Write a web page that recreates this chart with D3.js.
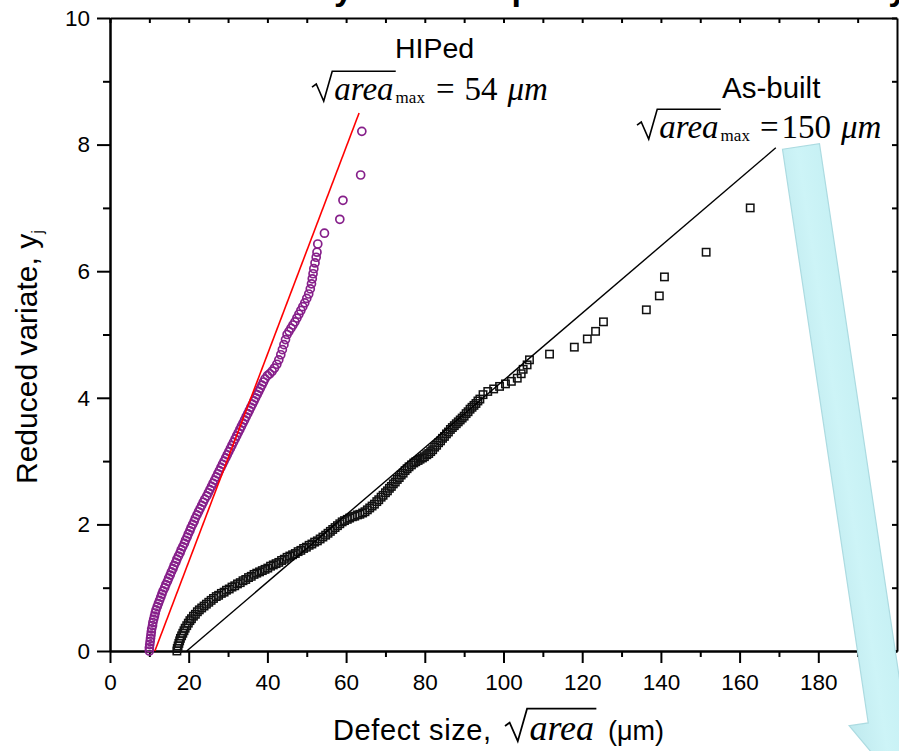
<!DOCTYPE html>
<html>
<head>
<meta charset="utf-8">
<script src="https://cdnjs.cloudflare.com/ajax/libs/d3/7.8.5/d3.min.js"></script>
<style>
  body { margin: 0; background: #fff; }
  svg { display: block; }
</style>
</head>
<body>
<div id="chart"></div>
<script>
'use strict'
/* global d3 */

const width = 899,
  height = 751

// HIPed defects: [sqrt(area) um, reduced variate]
const hipedPts = [
  [10.0,0.00],[10.0,0.05],[10.1,0.10],[10.2,0.15],[10.3,0.20],[10.4,0.25],[10.5,0.30],[10.6,0.35],[10.8,0.40],[10.9,0.45],
  [11.1,0.50],[11.3,0.55],[11.5,0.60],[11.7,0.65],[12.0,0.70],[12.3,0.75],[12.6,0.80],[12.9,0.85],[13.2,0.90],[13.5,0.95],
  [13.9,1.00],[14.2,1.05],[14.6,1.10],[14.9,1.15],[15.3,1.20],[15.6,1.25],[16.0,1.30],[16.3,1.35],[16.7,1.40],[17.0,1.45],
  [17.4,1.50],[17.8,1.55],[18.1,1.60],[18.5,1.65],[18.9,1.70],[19.2,1.75],[19.6,1.80],[19.9,1.85],[20.3,1.90],[20.6,1.95],
  [21.0,2.00],[21.4,2.05],[21.7,2.10],[22.1,2.15],[22.5,2.20],[22.9,2.25],[23.3,2.30],[23.7,2.35],[24.1,2.40],[24.6,2.45],
  [25.0,2.50],[25.4,2.55],[25.8,2.60],[26.2,2.65],[26.6,2.70],[27.0,2.75],[27.4,2.80],[27.8,2.85],[28.2,2.90],[28.6,2.95],
  [29.0,3.00],[29.4,3.05],[29.8,3.10],[30.2,3.15],[30.6,3.20],[31.0,3.25],[31.4,3.30],[31.8,3.35],[32.2,3.40],[32.6,3.45],
  [33.0,3.50],[33.4,3.55],[33.8,3.60],[34.2,3.65],[34.6,3.70],[35.0,3.75],[35.4,3.80],[35.8,3.85],[36.2,3.90],[36.6,3.95],
  [37.0,4.00],[37.4,4.05],[37.8,4.10],[38.2,4.15],[38.6,4.20],[39.0,4.25],[39.4,4.30],[40.0,4.35],
  [40.6,4.38],[41.2,4.42],[41.8,4.47],[42.4,4.53],[42.9,4.60],[43.4,4.68],[43.8,4.76],[44.2,4.84],[44.6,4.92],[45.0,5.00],
  [45.5,5.05],[46.0,5.10],[46.5,5.15],[47.0,5.20],[47.5,5.26],[48.0,5.32],[48.5,5.38],[49.0,5.44],[49.5,5.50],[50.0,5.57],
  [50.5,5.64],[50.9,5.72],[51.2,5.80],[51.4,5.88],[51.6,5.96],[51.8,6.04],[52.1,6.13],[52.4,6.22],[52.6,6.30],[52.8,6.43],
  [54.5,6.60],[58.4,6.82],[59.2,7.12],[63.7,7.52],[64.0,8.21]
]

// As-built defects: [sqrt(area) um, reduced variate]
const asBuiltPts = [
  [17.0,0.00],[17.1,0.04],[17.3,0.08],[17.5,0.12],[17.7,0.16],[17.9,0.20],[18.2,0.24],[18.5,0.28],[18.8,0.32],[19.1,0.36],
  [19.5,0.40],[19.9,0.44],[20.3,0.48],[20.7,0.51],[21.2,0.55],[21.7,0.58],[22.2,0.62],[22.7,0.65],[23.3,0.68],[23.9,0.71],
  [24.5,0.74],[25.1,0.77],[25.7,0.80],[26.3,0.83],[27.0,0.86],[27.6,0.88],[28.3,0.91],[29.0,0.93],[29.6,0.96],[30.3,0.98],
  [31.0,1.01],[31.7,1.03],[32.4,1.06],[33.1,1.08],[33.8,1.11],[34.5,1.13],[35.2,1.16],[35.9,1.18],[36.6,1.21],[37.3,1.23],
  [38.0,1.25],[38.7,1.27],[39.4,1.29],[40.1,1.31],[40.8,1.34],[41.5,1.36],[42.2,1.38],[42.9,1.40],[43.6,1.43],[44.3,1.45],
  [45.0,1.48],[45.7,1.50],[46.4,1.52],[47.1,1.54],[47.8,1.57],[48.5,1.59],[49.2,1.62],[49.9,1.64],[50.6,1.67],[51.3,1.69],
  [52.0,1.72],[52.7,1.74],[53.4,1.77],[54.1,1.80],[54.8,1.83],[55.4,1.86],[56.0,1.89],[56.6,1.92],[57.2,1.95],[57.8,1.98],
  [58.4,2.01],[59.0,2.04],[59.6,2.06],[60.3,2.08],[60.9,2.10],[61.6,2.12],[62.2,2.13],[62.9,2.15],[63.5,2.16],[64.2,2.18],
  [64.8,2.20],[65.4,2.23],[66.0,2.26],[66.6,2.29],[67.2,2.32],[67.8,2.36],[68.3,2.39],[68.9,2.43],[69.4,2.46],[70.0,2.50],
  [70.5,2.53],[71.0,2.57],[71.5,2.60],[72.0,2.64],[72.5,2.67],[73.0,2.71],[73.5,2.74],[74.0,2.78],[74.5,2.81],[75.0,2.85],
  [75.5,2.88],[76.0,2.91],[76.6,2.94],[77.2,2.97],[77.7,2.99],[78.3,3.01],[78.8,3.03],[79.4,3.05],[79.9,3.07],[80.5,3.10],
  [81.0,3.12],[81.5,3.15],[82.0,3.18],[82.5,3.22],[83.0,3.25],[83.5,3.29],[84.0,3.32],[84.5,3.36],[85.0,3.39],[85.5,3.43],
  [86.0,3.46],[86.5,3.50],[87.0,3.53],[87.5,3.56],[88.0,3.59],[88.5,3.62],[89.0,3.65],[89.5,3.68],[90.0,3.71],[90.5,3.75],
  [91.0,3.78],[91.5,3.82],[92.0,3.85],[92.5,3.88],[93.0,3.91],[93.5,3.95],[94.0,3.98],[94.8,4.05],[96.0,4.10],[97.5,4.14],
  [99.0,4.18],[100.5,4.22],[102.0,4.26],[103.5,4.31],[104.5,4.38],[105.0,4.45],[106.0,4.52],[106.6,4.60],
  [111.7,4.69],[118.0,4.80],[121.3,4.93],[123.4,5.05],[125.4,5.20],[136.3,5.39],[139.6,5.61],[140.9,5.91],[151.5,6.30],[162.7,7.00]
]

// fitted Gumbel lines, end points
const hipedFit = [[11.4, 0], [63.3, 8.5]]
const asBuiltFit = [[19.5, 0], [169.2, 7.95]]

const xTicks = [0, 20, 40, 60, 80, 100, 120, 140, 160, 180]
const xMinor = [10, 30, 50, 70, 90, 110, 130, 150, 170, 190]
const yTicks = [0, 2, 4, 6, 8, 10]
const yMinor = [1, 3, 5, 7, 9]

const titleText = 'Extreme value analysis of the pore size in the AM alloy'

const sans = "'Liberation Sans', Arial, sans-serif"
const serif = "'Liberation Serif', 'Times New Roman', serif"

let svg = d3.select('#chart')
  .append('svg')
  .attr('width', width)
  .attr('height', height)

const x = d3.scaleLinear().domain([0, 200]).range([110, 897])
const y = d3.scaleLinear().domain([0, 10]).range([651, 18])

// title, cut off by the top edge (only descenders show)
const title = svg.append('text')
  .attr('y', 0)
  .attr('font-family', sans)
  .attr('font-weight', 'bold')
  .attr('font-size', 34)
  .text(titleText)
title.attr('x', 334 - title.node().getSubStringLength(0, titleText.indexOf('y')))

let styleAxis = (g) => {
  g.selectAll('line').attr('stroke', '#000').attr('stroke-width', 2)
  g.selectAll('path').attr('stroke', '#000').attr('stroke-width', 2)
  g.selectAll('text').attr('font-family', sans).attr('font-size', 22.5).attr('fill', '#000')
}

// frame: top and right, inward ticks
svg.append('g')
  .attr('transform', `translate(0,${y(10)})`)
  .call(d3.axisTop(x).tickValues(xTicks.concat(xMinor)).tickSize(-5).tickSizeOuter(0).tickFormat(''))
  .call(styleAxis)
svg.append('g')
  .attr('transform', `translate(${x(200)},0)`)
  .call(d3.axisRight(y).tickValues(yTicks.concat(yMinor)).tickSize(-5).tickSizeOuter(0).tickFormat(''))
  .call(styleAxis)

// bottom axis
svg.append('g')
  .attr('transform', `translate(0,${y(0)})`)
  .call(d3.axisBottom(x).tickValues(xMinor).tickSize(6).tickSizeOuter(0).tickFormat(''))
  .call(styleAxis)
svg.append('g')
  .attr('transform', `translate(0,${y(0)})`)
  .call(d3.axisBottom(x).tickValues(xTicks).tickSize(12).tickPadding(11).tickSizeOuter(0))
  .call(styleAxis)

// left axis
svg.append('g')
  .attr('transform', `translate(${x(0)},0)`)
  .call(d3.axisLeft(y).tickValues(yMinor).tickSize(7).tickSizeOuter(0).tickFormat(''))
  .call(styleAxis)
svg.append('g')
  .attr('transform', `translate(${x(0)},0)`)
  .call(d3.axisLeft(y).tickValues(yTicks).tickSize(13).tickPadding(7).tickSizeOuter(0))
  .call(styleAxis)

let line = d3.line().x(d => x(d[0])).y(d => y(d[1]))

// As-built squares + fit
svg.append('g').selectAll('rect')
  .data(asBuiltPts)
  .enter()
  .append('rect')
  .attr('x', d => x(d[0]) - 3.7)
  .attr('y', d => y(d[1]) - 3.7)
  .attr('width', 7.4)
  .attr('height', 7.4)
  .attr('fill', 'none')
  .attr('stroke', '#111')
  .attr('stroke-width', 1.5)

svg.append('path')
  .datum(asBuiltFit)
  .attr('d', line)
  .attr('fill', 'none')
  .attr('stroke', '#000')
  .attr('stroke-width', 1.4)

// HIPed circles + fit
svg.append('g').selectAll('circle')
  .data(hipedPts)
  .enter()
  .append('circle')
  .attr('cx', d => x(d[0]))
  .attr('cy', d => y(d[1]))
  .attr('r', 4)
  .attr('fill', 'none')
  .attr('stroke', '#861f8a')
  .attr('stroke-width', 1.7)

svg.append('path')
  .datum(hipedFit)
  .attr('d', line)
  .attr('fill', 'none')
  .attr('stroke', '#ff0000')
  .attr('stroke-width', 1.6)

// sqrt(area) with radical sign, returns the x where it ends
let sqrtArea = (g, x0, base, size) => {
  const s = size / 31
  const t = g.append('text')
    .attr('x', x0 + 21 * s)
    .attr('y', base)
    .attr('font-family', serif)
    .attr('font-style', 'italic')
    .attr('font-size', size)
    .text('area')
  const w = t.node().getComputedTextLength()
  g.append('path')
    .attr('d', `M${x0},${base - 12 * s} L${x0 + 4 * s},${base - 15 * s} L${x0 + 11 * s},${base + 1 * s} ` +
      `L${x0 + 19 * s},${base - 27 * s} H${x0 + 21 * s + w + 2 * s}`)
    .attr('fill', 'none')
    .attr('stroke', '#000')
    .attr('stroke-width', 1.5 * s)
  return x0 + 21 * s + w
}

let pieces = (g, x0, base, list) => {
  let cx = x0
  list.forEach(p => {
    cx += p.gap
    const t = g.append('text')
      .attr('x', cx)
      .attr('y', base + (p.dy || 0))
      .attr('font-family', p.font || serif)
      .attr('font-style', p.italic ? 'italic' : 'normal')
      .attr('font-size', p.size)
      .text(p.t)
    cx += t.node().getComputedTextLength()
  })
}

const notes = svg.append('g').attr('fill', '#000')

notes.append('text')
  .attr('x', 395).attr('y', 58)
  .attr('font-family', sans).attr('font-size', 28.5)
  .text('HIPed')
let e1 = sqrtArea(notes, 312, 100, 33)
pieces(notes, e1, 100, [
  { t: 'max', size: 17, dy: 3, gap: 2 },
  { t: '=', size: 33, gap: 11 },
  { t: '54', size: 33, gap: 10 },
  { t: 'μm', size: 33, italic: true, gap: 10 }
])

notes.append('text')
  .attr('x', 722).attr('y', 98)
  .attr('font-family', sans).attr('font-size', 29.5)
  .text('As-built')
let e2 = sqrtArea(notes, 637, 138, 33)
pieces(notes, e2, 138, [
  { t: 'max', size: 17, dy: 3, gap: 2 },
  { t: '=', size: 33, gap: 10 },
  { t: '150', size: 33, gap: 3 },
  { t: 'μm', size: 33, italic: true, gap: 10 }
])

// axis titles
notes.append('text')
  .attr('x', 333).attr('y', 740)
  .attr('font-family', sans).attr('font-size', 29)
  .attr('letter-spacing', 0.6)
  .text('Defect size,')
let e3 = sqrtArea(notes, 505, 740, 36)
pieces(notes, e3, 740, [{ t: '(μm)', size: 27, font: sans, gap: 14 }])

const yTitle = notes.append('text')
  .attr('transform', 'translate(37,484) rotate(-90)')
  .attr('font-family', sans).attr('font-size', 30)
yTitle.append('tspan').text('Reduced variate, y')
yTitle.append('tspan').attr('font-size', 17).attr('dy', 6).text('j')

// big light-blue arrow pointing down to the right
const defs = svg.append('defs')
const grad = defs.append('linearGradient').attr('id', 'arrowFill')
  .attr('x1', '0%').attr('x2', '100%').attr('y1', '0%').attr('y2', '0%')
grad.append('stop').attr('offset', '0%').attr('stop-color', '#bfe9ee')
grad.append('stop').attr('offset', '45%').attr('stop-color', '#cdf4f7')
grad.append('stop').attr('offset', '100%').attr('stop-color', '#c2eef2')

const bw = 18.7, bl = 580, hw = 38, hl = 62
svg.append('g')
  .attr('transform', `translate(${x(175.6)},${y(7.97)}) rotate(-8.5)`)
  .append('path')
  .attr('d', `M${-bw},0 L${bw},0 L${bw},${bl} L${hw},${bl} L0,${bl + hl} L${-hw},${bl} L${-bw},${bl} Z`)
  .attr('fill', 'url(#arrowFill)')
  .attr('stroke', '#acdbe1')
  .attr('stroke-width', 1.2)
</script>
</body>
</html>
